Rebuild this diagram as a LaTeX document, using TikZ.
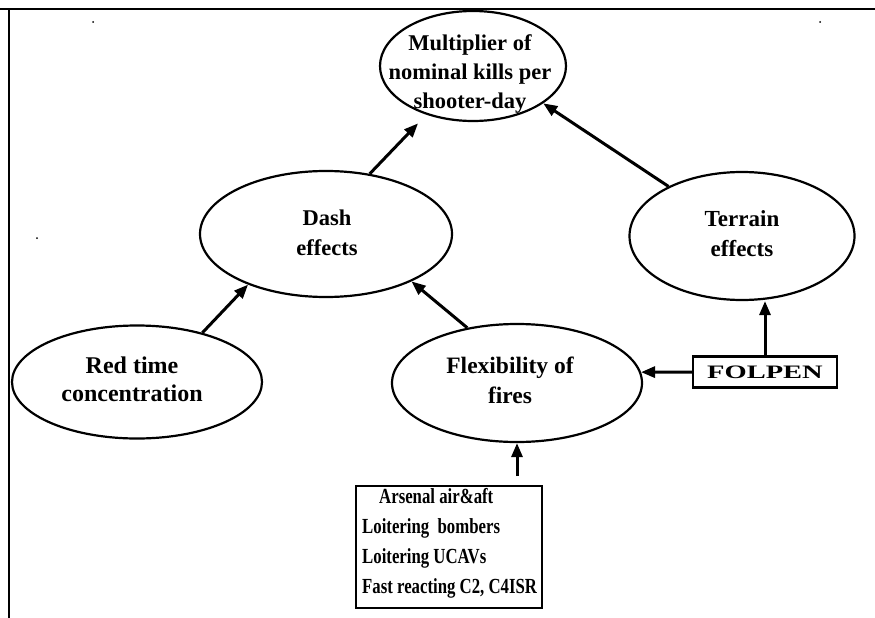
\documentclass[tikz,border=0pt]{standalone}
\usepackage{fontspec}
\usepackage{graphicx}
\setmainfont{Liberation Serif}
\newfontfamily\condfont[FakeStretch=0.78]{Liberation Serif}
\usetikzlibrary{shapes.geometric,arrows.meta}
\begin{document}
\begin{tikzpicture}[x=1pt,y=-1pt,
  ell/.style={ellipse,draw,line width=2.2pt,inner sep=0pt},
  txt/.style={align=center,inner sep=0pt,font=\bfseries\fontsize{23}{29}\selectfont},
  arr/.style={line width=3pt,-{Triangle[length=14pt,width=11pt]}},
  boxnode/.style={draw,line width=2.4pt,inner sep=0pt}]
\useasboundingbox (0,0) rectangle (875,618);
% frame
\draw[line width=1.8pt] (0,9) -- (875,9);
\draw[line width=1.8pt] (9,9) -- (9,618);
\fill (93,22) circle (1pt) (820,22) circle (1pt) (37,238) circle (1pt);
% ellipses
\node[ell,minimum width=186pt,minimum height=110pt] (mult) at (473,66) {};
\node[ell,minimum width=252pt,minimum height=126pt] (dash) at (326,234) {};
\node[ell,minimum width=225pt,minimum height=128pt] (terr) at (742,236) {};
\node[ell,minimum width=250pt,minimum height=113pt] (red) at (137,382) {};
\node[ell,minimum width=250pt,minimum height=118pt] (flex) at (517,383) {};
% texts
\node[txt,font=\bfseries\fontsize{22.5}{29}\selectfont] (multT) at (470,74) {Multiplier of\\nominal kills per\\shooter-day};
\node[txt,font=\bfseries\fontsize{22.5}{30}\selectfont] (dashT) at (327,233) {Dash\\effects};
\node[txt,font=\bfseries\fontsize{23}{30}\selectfont] (terrT) at (742,234) {Terrain\\effects};
\node[txt,font=\bfseries\fontsize{24}{28}\selectfont] (redT) at (132,379) {Red time\\concentration};
\node[txt,font=\bfseries\fontsize{23.5}{30}\selectfont] (flexT) at (510,380) {Flexibility of\\fires};
% boxes
\node[boxnode,minimum width=144pt,minimum height=31pt,font=\bfseries\fontsize{19}{20}\selectfont] (folpen) at (765,372) {\scalebox{1.5}[1]{FOLPEN}};
\node[boxnode,minimum width=186pt,minimum height=122pt,anchor=north west] (list) at (355,485) {};
\node[anchor=north west,align=left,inner sep=0pt,font=\condfont\bfseries\fontsize{21.5}{30}\selectfont] (listT) at (362,488)
  {\hspace*{17pt}Arsenal air\&aft\\Loitering\ \ bombers\\Loitering UCAVs\\Fast reacting C2,\ C4ISR};
% connectors
\coordinate (lt) at (517,476);
\draw[arr,shorten >=12pt] (dash.54) -- (mult);
\draw[arr] (terr.146) -- (mult.-28);
\draw[arr] (red.37) -- (dash.213);
\draw[arr] (flex.132) -- (dash.331);
\draw[arr] (folpen.west) -- (flex.5);
\draw[arr] (folpen.north) -- (folpen.north |- terr.south);
\draw[arr] (lt) -- (flex.south);
\end{tikzpicture}
\end{document}
